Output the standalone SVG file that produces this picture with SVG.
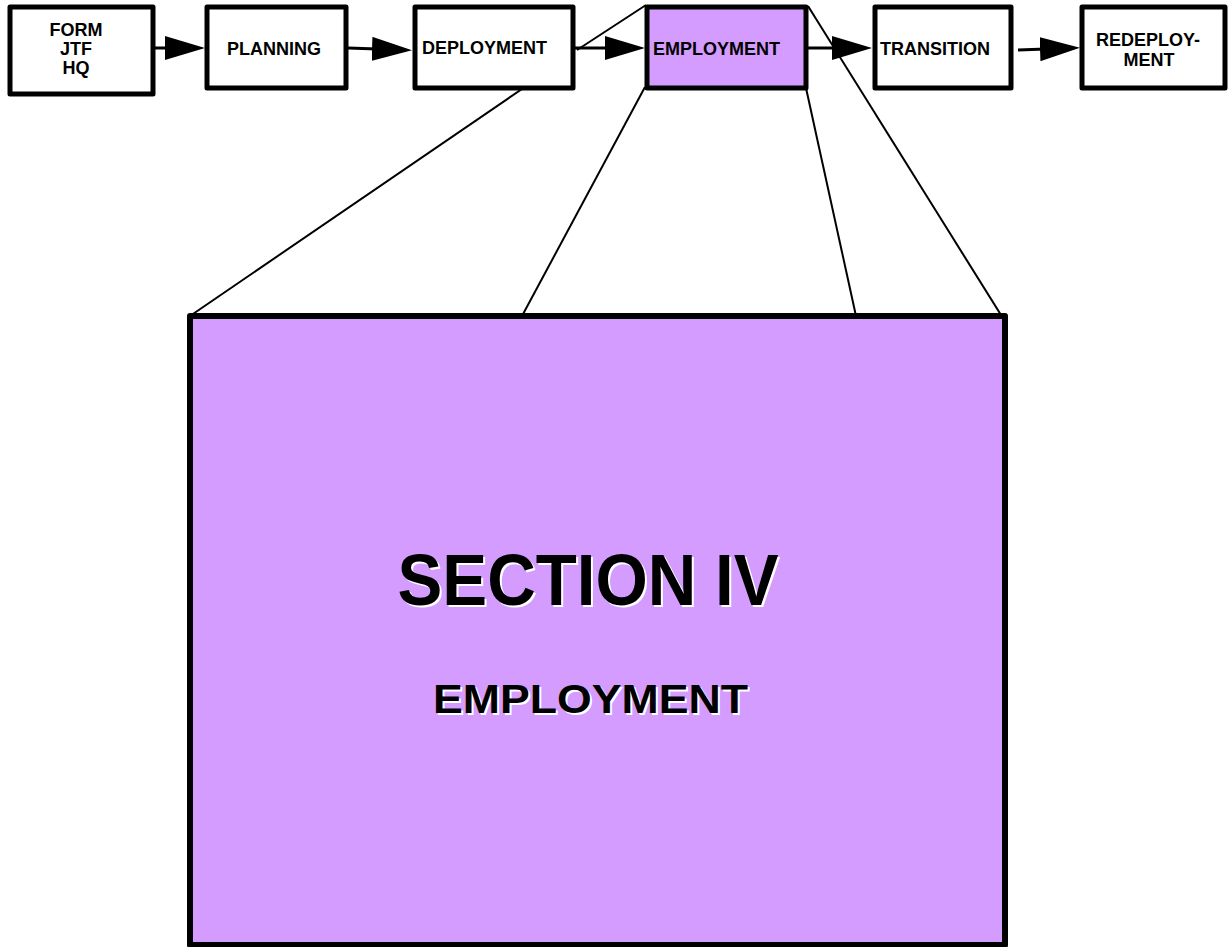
<svg xmlns="http://www.w3.org/2000/svg" width="1228" height="947" viewBox="0 0 1228 947">
  <style>
    .box { fill: #ffffff; stroke: #000000; stroke-width: 5; stroke-linejoin: round; }
    .hl { fill: #D49CFF; }
    .big { fill: #D49CFF; stroke: #000000; stroke-width: 6; stroke-linejoin: round; }
    .lbl { font-family: "Liberation Sans", Arial, sans-serif; font-weight: bold; font-size: 18px; fill: #000000; }
    .title { font-family: "Liberation Sans", Arial, sans-serif; font-weight: bold; fill: #000000; }
    .shadow { fill: #ffffff; }
    .flow { stroke: #000000; stroke-width: 3; fill: none; }
    .zoom { stroke: #000000; stroke-width: 2; fill: none; }
  </style>
  <defs>
    <marker id="head" viewBox="0 0 40 24" refX="34" refY="12" markerWidth="40" markerHeight="24" markerUnits="userSpaceOnUse" orient="auto">
      <path d="M0,0 L40,12 L0,24 Z" fill="#000000"/>
    </marker>
  </defs>

  <rect width="1228" height="947" fill="#ffffff"/>

  <!-- lines fanning out from the highlighted phase to the enlarged section box -->
  <g id="zoom-lines">
    <line class="zoom" x1="577" y1="50" x2="646" y2="5"/>
    <line class="zoom" x1="808" y1="6" x2="1001" y2="315"/>
    <line class="zoom" x1="645" y1="87" x2="522" y2="316"/>
    <line class="zoom" x1="806" y1="88" x2="856" y2="316"/>
    <line class="zoom" x1="522" y1="89" x2="190" y2="316"/>
  </g>

  <!-- enlarged section box -->
  <g id="section-iv">
    <rect class="big" x="190" y="316" width="815" height="629"/>
    <text class="title shadow" x="590" y="607" text-anchor="middle" font-size="73" textLength="381" lengthAdjust="spacingAndGlyphs">SECTION IV</text>
    <text class="title" x="588" y="605" text-anchor="middle" font-size="73" textLength="381" lengthAdjust="spacingAndGlyphs">SECTION IV</text>
    <text class="title shadow" x="592.5" y="715" text-anchor="middle" font-size="41" textLength="315" lengthAdjust="spacingAndGlyphs">EMPLOYMENT</text>
    <text class="title" x="590.5" y="713" text-anchor="middle" font-size="41" textLength="315" lengthAdjust="spacingAndGlyphs">EMPLOYMENT</text>
  </g>

  <!-- phase flow arrows -->
  <g id="connectors">
    <line class="flow" x1="155" y1="48" x2="199" y2="48" marker-end="url(#head)"/>
    <line class="flow" x1="348" y1="48" x2="406" y2="50" marker-end="url(#head)"/>
    <line class="flow" x1="575" y1="48" x2="639" y2="48" marker-end="url(#head)"/>
    <line class="flow" x1="808" y1="48" x2="866" y2="48" marker-end="url(#head)"/>
    <line class="flow" x1="1018" y1="50" x2="1074" y2="48" marker-end="url(#head)"/>
  </g>

  <g id="form-jtf-hq">
    <rect class="box" x="10" y="7" width="143" height="87"/>
    <text class="lbl" x="76" y="36" text-anchor="middle">FORM</text>
    <text class="lbl" x="76" y="55" text-anchor="middle">JTF</text>
    <text class="lbl" x="76" y="74" text-anchor="middle">HQ</text>
  </g>

  <g id="planning">
    <rect class="box" x="207" y="7" width="139" height="81"/>
    <text class="lbl" x="274" y="55" text-anchor="middle">PLANNING</text>
  </g>

  <g id="deployment">
    <rect class="box" x="415" y="7" width="158" height="81"/>
    <text class="lbl" x="422" y="54">DEPLOYMENT</text>
  </g>

  <g id="employment">
    <rect class="box hl" x="647" y="7" width="159" height="81"/>
    <text class="lbl" x="653" y="55">EMPLOYMENT</text>
  </g>

  <g id="transition">
    <rect class="box" x="875" y="7" width="136" height="81"/>
    <text class="lbl" x="880" y="55">TRANSITION</text>
  </g>

  <g id="redeployment">
    <rect class="box" x="1082" y="7" width="143" height="81"/>
    <text class="lbl" x="1148" y="46" text-anchor="middle">REDEPLOY-</text>
    <text class="lbl" x="1149" y="66" text-anchor="middle">MENT</text>
  </g>
</svg>
